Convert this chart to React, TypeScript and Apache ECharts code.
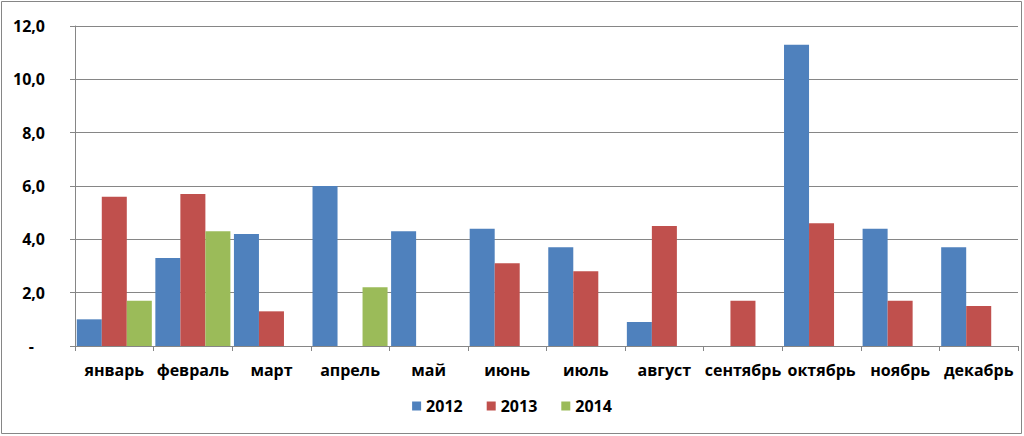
import React, { useEffect, useRef } from "react";
import * as echarts from "echarts";

const categories = ["январь", "февраль", "март", "апрель", "май", "июнь", "июль", "август", "сентябрь", "октябрь", "ноябрь", "декабрь"];
const s2012 = [1.0, 3.3, 4.2, 6.0, 4.3, 4.4, 3.7, 0.9, null, 11.3, 4.4, 3.7];
const s2013 = [5.6, 5.7, 1.3, null, null, 3.1, 2.8, 4.5, 1.7, 4.6, 1.7, 1.5];
const s2014 = [1.7, 4.3, null, 2.2, null, null, null, null, null, null, null, null];
const seriesNames = ["2012", "2013", "2014"];
const colors = ["#4F81BD", "#C0504D", "#9BBB59"];

export default function App() {
  const ref = useRef<HTMLDivElement>(null);
  useEffect(() => {
    const chart = echarts.init(ref.current!, undefined, { renderer: "svg" });
    const font = "Open Sans";
    chart.setOption({
      animation: false,
      backgroundColor: "#ffffff",
      graphic: [
        {
          type: "rect",
          shape: { x: 1.5, y: 1.5, width: 1020, height: 432 },
          style: { fill: "none", stroke: "#868686", lineWidth: 1 },
          silent: true,
        },
      ],
      grid: { left: 75, right: 6, top: 26, bottom: 90, containLabel: false },
      legend: {
        data: seriesNames,
        bottom: 17,
        left: "center",
        itemWidth: 9,
        itemHeight: 9,
        itemGap: 24,
        icon: "rect",
        textStyle: { fontFamily: font, fontWeight: "bold", fontSize: 16, color: "#000" },
      },
      xAxis: {
        type: "category",
        data: categories,
        axisLine: { lineStyle: { color: "#868686" } },
        axisTick: { show: true, length: 5, lineStyle: { color: "#868686" } },
        axisLabel: { fontFamily: font, fontWeight: "bold", fontSize: 16, color: "#000", margin: 16, interval: 0 },
      },
      yAxis: {
        type: "value",
        min: 0,
        max: 12,
        interval: 2,
        axisLine: { show: true, lineStyle: { color: "#868686" } },
        axisTick: { show: true, length: 5, lineStyle: { color: "#868686" } },
        splitLine: { lineStyle: { color: "#868686" } },
        axisLabel: {
          fontFamily: font,
          fontWeight: "bold",
          fontSize: 16,
          color: "#000",
          margin: 30,
          formatter: (v: number) => (v === 0 ? "{z|-}" : v.toFixed(1).replace(".", ",")),
          rich: {
            z: { fontFamily: font, fontWeight: "bold", fontSize: 16, color: "#000", padding: [0, 11, 0, 0] },
          },
        },
      },
      series: [s2012, s2013, s2014].map((d, i) => ({
        name: seriesNames[i],
        type: "bar",
        data: d,
        barGap: "0%",
        barCategoryGap: "4.5%",
        itemStyle: { color: colors[i] },
      })),
    });
    return () => chart.dispose();
  }, []);
  return <div ref={ref} style={{ position: "fixed", left: 0, top: 0, width: 1024, height: 436 }} />;
}
